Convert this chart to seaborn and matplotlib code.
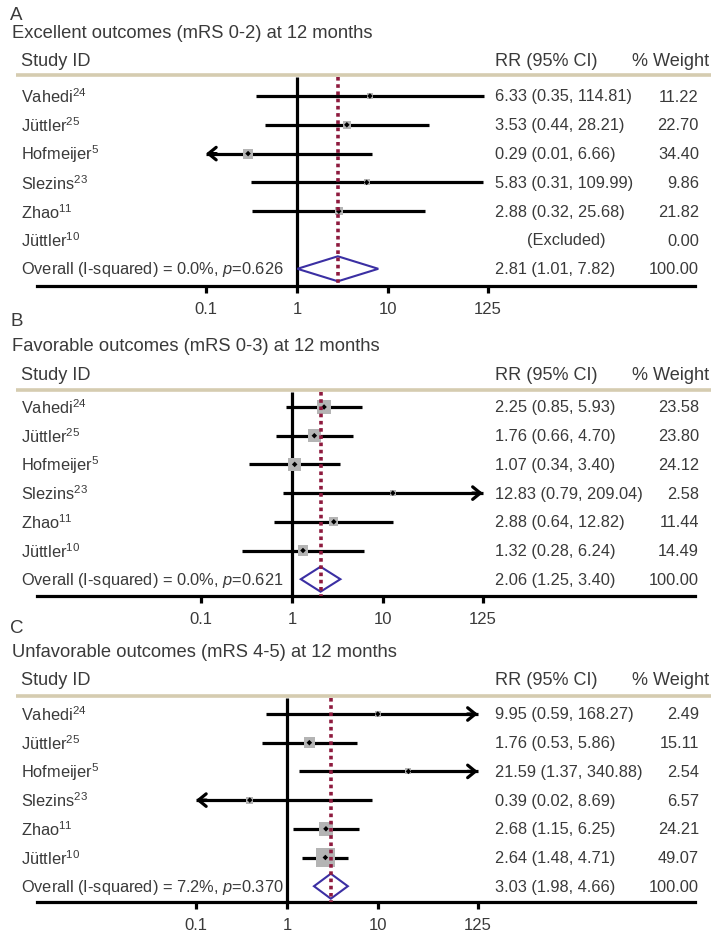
import numpy as np
import matplotlib
matplotlib.use("Agg")
import matplotlib.pyplot as plt
from matplotlib.ticker import NullLocator, FixedLocator, FixedFormatter
import seaborn as sns
import pandas as pd

# ---------------- data ----------------
studies = ["Vahedi$^{24}$", "Jüttler$^{25}$", "Hofmeijer$^{5}$",
           "Slezins$^{23}$", "Zhao$^{11}$", "Jüttler$^{10}$"]

titles = ["Excellent outcomes (mRS 0-2) at 12 months",
          "Favorable outcomes (mRS 0-3) at 12 months",
          "Unfavorable outcomes (mRS 4-5) at 12 months"]
letters = ["A", "B", "C"]

a_rr = [6.33, 3.53, 0.29, 5.83, 2.88, np.nan]
a_lo = [0.35, 0.44, 0.01, 0.31, 0.32, np.nan]
a_hi = [114.81, 28.21, 6.66, 109.99, 25.68, np.nan]
a_w = [11.22, 22.70, 34.40, 9.86, 21.82, 0.00]
a_overall = [2.81, 1.01, 7.82]
a_stats = ["0.0%", "0.626"]

b_rr = [2.25, 1.76, 1.07, 12.83, 2.88, 1.32]
b_lo = [0.85, 0.66, 0.34, 0.79, 0.64, 0.28]
b_hi = [5.93, 4.70, 3.40, 209.04, 12.82, 6.24]
b_w = [23.58, 23.80, 24.12, 2.58, 11.44, 14.49]
b_overall = [2.06, 1.25, 3.40]
b_stats = ["0.0%", "0.621"]

c_rr = [9.95, 1.76, 21.59, 0.39, 2.68, 2.64]
c_lo = [0.59, 0.53, 1.37, 0.02, 1.15, 1.48]
c_hi = [168.27, 5.86, 340.88, 8.69, 6.25, 4.71]
c_w = [2.49, 15.11, 2.54, 6.57, 24.21, 49.07]
c_overall = [3.03, 1.98, 4.66]
c_stats = ["7.2%", "0.370"]

tick_vals = [0.1, 1, 10, 125]
tick_labels = ["0.1", "1", "10", "125"]
clip_lo, clip_hi = 0.1, 125

# ---------------- style ----------------
sns.set_theme(style="white")
plt.rcParams["font.family"] = ["Liberation Sans", "DejaVu Sans"]
plt.rcParams["mathtext.fontset"] = "custom"
plt.rcParams["mathtext.rm"] = "Liberation Sans"
plt.rcParams["mathtext.it"] = "Liberation Sans:italic"
plt.rcParams["mathtext.bf"] = "Liberation Sans:bold"

W, H = 711, 937
DEC = 91.0
TXT = "#3a3a3a"
TAN = "#d5ccb0"
DIAM = "#3b2fa3"
DOT = "#8e1a3e"
GREY = "#b4b4b4"
LW = 2.3

fig = plt.figure(figsize=(W / 100, H / 100), dpi=100)

panels = [
    dict(x1=297, row0=97, sp=28.8, letter=15, title=33, hdr=62, tan=76, axis=287,
         rr=a_rr, lo=a_lo, hi=a_hi, w=a_w, ov=a_overall, st=a_stats, k=1.7),
    dict(x1=292, row0=408, sp=28.7, letter=322, title=347, hdr=376, tan=391, axis=597,
         rr=b_rr, lo=b_lo, hi=b_hi, w=b_w, ov=b_overall, st=b_stats, k=2.7),
    dict(x1=287, row0=715, sp=28.7, letter=629, title=653, hdr=681, tan=697, axis=903,
         rr=c_rr, lo=c_lo, hi=c_hi, w=c_w, ov=c_overall, st=c_stats, k=2.8),
]

for i, P in enumerate(panels):
    ax = fig.add_axes([0, 0, 1, 1])
    ax.patch.set_alpha(0)
    ax.set_xscale("log")
    x1, row0, sp = P["x1"], P["row0"], P["sp"]
    r = lambda px: (px - row0) / sp
    fx = lambda px: px / W
    xd = lambda px: 10 ** ((px - x1) / DEC)
    tr = ax.get_yaxis_transform()
    n = len(studies)
    rows = np.arange(n)

    # texts
    ax.text(fx(10), r(P["letter"]), letters[i], transform=tr, fontsize=13.5,
            color=TXT, va="center", ha="left")
    ax.text(fx(12), r(P["title"]), titles[i], transform=tr, fontsize=13.2,
            color=TXT, va="center", ha="left")
    ax.text(fx(21), r(P["hdr"]), "Study ID", transform=tr, fontsize=13.1,
            color=TXT, va="center", ha="left")
    ax.text(fx(495), r(P["hdr"]), "RR (95% CI)", transform=tr, fontsize=13.1,
            color=TXT, va="center", ha="left")
    ax.text(fx(709), r(P["hdr"]), "% Weight", transform=tr, fontsize=13.1,
            color=TXT, va="center", ha="right")
    ax.plot([fx(16), fx(711)], [r(P["tan"])] * 2, transform=tr, color=TAN, lw=2.6,
            solid_capstyle="butt")

    for j in range(n):
        ax.text(fx(21), j, studies[j], transform=tr, fontsize=11.8, color=TXT,
                va="center", ha="left")
        if np.isnan(P["rr"][j]):
            s = "(Excluded)"
            ax.text(fx(527), j, s, transform=tr, fontsize=11.8, color=TXT,
                    va="center", ha="left")
        else:
            s = f"{P['rr'][j]:.2f} ({P['lo'][j]:.2f}, {P['hi'][j]:.2f})"
            ax.text(fx(495), j, s, transform=tr, fontsize=11.8, color=TXT,
                    va="center", ha="left")
        ax.text(fx(699), j, f"{P['w'][j]:.2f}", transform=tr, fontsize=11.8,
                color=TXT, va="center", ha="right")

    ov = P["ov"]
    ax.text(fx(21), n, f"Overall (I-squared) = {P['st'][0]}, $\\mathit{{p}}$={P['st'][1]}",
            transform=tr, fontsize=11.8, color=TXT, va="center", ha="left")
    ax.text(fx(495), n, f"{ov[0]:.2f} ({ov[1]:.2f}, {ov[2]:.2f})", transform=tr,
            fontsize=11.8, color=TXT, va="center", ha="left")
    ax.text(fx(699), n, f"{100:.2f}", transform=tr, fontsize=11.8, color=TXT,
            va="center", ha="right")

    # null line
    top = r(P["tan"] + 2)
    ax.vlines(1, top, r(P["axis"]), color="black", lw=LW, zorder=2)

    # CIs
    df = pd.DataFrame({"rr": P["rr"], "lo": P["lo"], "hi": P["hi"], "w": P["w"], "row": rows})
    df = df.dropna()
    lo_c = df["lo"].clip(lower=clip_lo)
    hi_c = df["hi"].clip(upper=clip_hi)
    ax.hlines(df["row"], lo_c, hi_c, color="black", lw=LW, zorder=2)
    for _, rw in df.iterrows():
        if rw["lo"] < clip_lo:
            ax.annotate("", xy=(clip_lo, rw["row"]), xytext=(clip_lo * 1.3, rw["row"]),
                        arrowprops=dict(arrowstyle="->,head_length=0.55,head_width=0.45",
                                        lw=LW, color="black", shrinkA=0, shrinkB=0,
                                        mutation_scale=10), zorder=2)
        if rw["hi"] > clip_hi:
            ax.annotate("", xy=(clip_hi, rw["row"]), xytext=(clip_hi / 1.3, rw["row"]),
                        arrowprops=dict(arrowstyle="->,head_length=0.55,head_width=0.45",
                                        lw=LW, color="black", shrinkA=0, shrinkB=0,
                                        mutation_scale=10), zorder=2)

    # weight boxes
    side_px = np.maximum(6.0, P["k"] * np.sqrt(df["w"].values))
    sns.scatterplot(data=df, x="rr", y="row", marker="s", s=(side_px * 0.72) ** 2,
                    color=GREY, edgecolor="none", linewidth=0, legend=False, ax=ax, zorder=3)
    sns.scatterplot(data=df, x="rr", y="row", marker="D", s=8, color="black",
                    edgecolor="none", linewidth=0, legend=False, ax=ax, zorder=4)

    # overall diamond
    hh = 12.5 / sp
    ax.fill([ov[1], ov[0], ov[2], ov[0]], [n, n - hh, n, n + hh], facecolor="none",
            edgecolor=DIAM, lw=1.5, zorder=4)
    # overall dotted line
    ax.vlines(ov[0], top, r(P["axis"]), color=DOT, lw=2.6, linestyles=(0, (1, 1)), zorder=5)

    # axis
    ax.set_xlim(xd(0), xd(W))
    ax.set_ylim(r(H), r(0))
    for sname in ["top", "left", "right"]:
        ax.spines[sname].set_visible(False)
    ax.spines["bottom"].set_position(("data", r(P["axis"])))
    ax.spines["bottom"].set_bounds(xd(37), xd(695))
    ax.spines["bottom"].set_linewidth(LW)
    ax.spines["bottom"].set_color("black")
    ax.xaxis.set_major_locator(FixedLocator(tick_vals))
    ax.xaxis.set_major_formatter(FixedFormatter(tick_labels))
    ax.xaxis.set_minor_locator(NullLocator())
    ax.tick_params(axis="x", which="major", direction="out", length=5, width=LW,
                   color="black", pad=6, labelsize=12, labelcolor=TXT, bottom=True)
    ax.set_yticks([])
    ax.set_xlabel("")
    ax.set_ylabel("")

fig.savefig("out.png", dpi=100)
